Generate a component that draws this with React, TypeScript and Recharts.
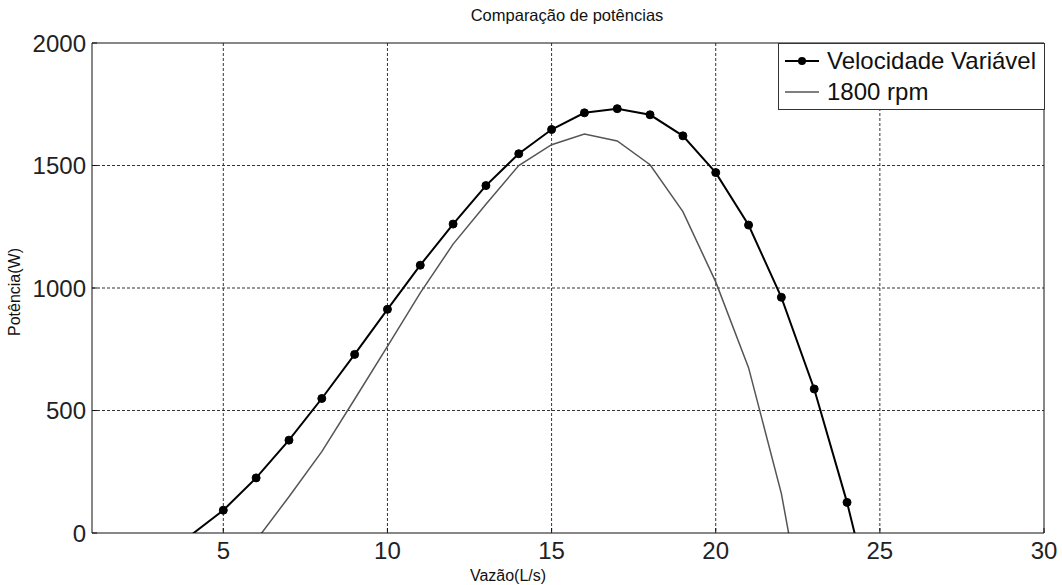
import { LineChart, Line, XAxis, YAxis, CartesianGrid } from "recharts";

// Vazão (L/s) vs potência (W), two operating modes
const vvFlow = [4, 5, 6, 7, 8, 9, 10, 11, 12, 13, 14, 15, 16, 17, 18, 19, 20, 21, 22, 23, 24, 25];
const vvPower = [-10, 93, 225, 379, 549, 729, 913, 1093, 1261, 1418, 1548, 1647, 1715, 1732, 1707, 1621, 1471, 1257, 962, 588, 125, -420];

const fixedFlow = [6, 7, 8, 9, 10, 11, 12, 13, 14, 15, 16, 17, 18, 19, 20, 21, 22, 23];
const fixedPower = [-30, 148, 332, 546, 762, 980, 1179, 1342, 1500, 1585, 1628, 1600, 1503, 1312, 1025, 675, 161, -570];

const xTicks = [5, 10, 15, 20, 25, 30];
const yTicks = [0, 500, 1000, 1500, 2000];
const xGrid = [5, 10, 15, 20, 25];
const yGrid = [500, 1000, 1500];

const vvData = vvFlow.map((q, i) => ({ q, p: vvPower[i] }));
const fixedData = fixedFlow.map((q, i) => ({ q, p: fixedPower[i] }));

const FONT = '"Liberation Sans", Arial, Helvetica, sans-serif';
const tickStyle = { fontSize: 24, fill: "#222", fontFamily: FONT };

// markers below the axis are cut off like the line itself
const Marker = (props: any) => {
  const { cx, cy, value, index } = props;
  if (value == null || value < 0) return <g key={`m${index}`} />;
  return <circle key={`m${index}`} cx={cx} cy={cy} r={4} fill="#000" stroke="#000" strokeWidth={1} />;
};

const LegendBox = () => (
  <div
    style={{
      position: "absolute",
      left: 778,
      top: 43,
      border: "1px solid #333",
      background: "#fff",
      width: 267,
      height: 67,
      boxSizing: "border-box",
      fontFamily: FONT,
      fontSize: 24,
      color: "#111",
      paddingTop: 1,
    }}
  >
    <div style={{ display: "flex", alignItems: "center", height: 31 }}>
      <svg width={48} height={30}>
        <line x1={6} y1={15} x2={40} y2={15} stroke="#000" strokeWidth={2} />
        <circle cx={23} cy={15} r={4} fill="#000" />
      </svg>
      <span>Velocidade Variável</span>
    </div>
    <div style={{ display: "flex", alignItems: "center", height: 31 }}>
      <svg width={48} height={30}>
        <line x1={6} y1={15} x2={40} y2={15} stroke="#555" strokeWidth={1.5} />
      </svg>
      <span>1800 rpm</span>
    </div>
  </div>
);

export default function App() {
  return (
    <div style={{ position: "absolute", left: 0, top: 0, width: 1062, height: 585, background: "#fff" }}>
      <div
        style={{
          position: "absolute",
          top: 6,
          left: 0,
          width: 1134,
          textAlign: "center",
          fontFamily: FONT,
          fontSize: 16.5,
          color: "#111",
        }}
      >
        Comparação de potências
      </div>
      <div
        style={{
          position: "absolute",
          left: 15,
          top: 292,
          transform: "translate(-50%, -50%) rotate(-90deg)",
          fontFamily: FONT,
          fontSize: 16,
          color: "#111",
          whiteSpace: "nowrap",
        }}
      >
        Potência(W)
      </div>
      <div
        style={{
          position: "absolute",
          left: 508,
          top: 576,
          transform: "translate(-50%, -50%)",
          fontFamily: FONT,
          fontSize: 16,
          color: "#111",
          whiteSpace: "nowrap",
        }}
      >
        Vazão(L/s)
      </div>
      <LineChart width={1062} height={585} margin={{ top: 42, right: 17, left: 0, bottom: 0 }}>
        <CartesianGrid
          xAxisId="b"
          yAxisId="l"
          horizontalValues={yGrid}
          verticalValues={xGrid}
          stroke="#333"
          strokeDasharray="3 2"
          strokeWidth={1}
        />
        <XAxis
          xAxisId="b"
          dataKey="q"
          type="number"
          domain={[1, 30]}
          ticks={xTicks}
          interval={0}
          height={52}
          allowDataOverflow
          axisLine={{ stroke: "#111" }}
          tickLine={{ stroke: "#111" }}
          tickSize={-5}
          tickMargin={14}
          tick={tickStyle}
        />
        <XAxis
          xAxisId="t"
          dataKey="q"
          type="number"
          orientation="top"
          domain={[1, 30]}
          ticks={xTicks}
          height={1}
          allowDataOverflow
          axisLine={{ stroke: "#111" }}
          tickLine={{ stroke: "#111" }}
          tickSize={-5}
          tick={false}
        />
        <YAxis
          yAxisId="l"
          type="number"
          domain={[0, 2000]}
          ticks={yTicks}
          interval={0}
          width={92}
          allowDataOverflow
          axisLine={{ stroke: "#111" }}
          tickLine={{ stroke: "#111" }}
          tickSize={-5}
          tickMargin={11}
          tick={tickStyle}
        />
        <YAxis
          yAxisId="r"
          type="number"
          orientation="right"
          domain={[0, 2000]}
          ticks={yTicks}
          width={1}
          allowDataOverflow
          axisLine={{ stroke: "#111" }}
          tickLine={{ stroke: "#111" }}
          tickSize={-5}
          tick={false}
        />
        <Line
          xAxisId="b"
          yAxisId="l"
          data={fixedData}
          dataKey="p"
          name="1800 rpm"
          type="linear"
          stroke="#555"
          strokeWidth={1.5}
          dot={false}
          isAnimationActive={false}
        />
        <Line
          xAxisId="b"
          yAxisId="l"
          data={vvData}
          dataKey="p"
          name="Velocidade Variável"
          type="linear"
          stroke="#000"
          strokeWidth={2}
          dot={Marker}
          isAnimationActive={false}
        />
      </LineChart>
      <LegendBox />
    </div>
  );
}
